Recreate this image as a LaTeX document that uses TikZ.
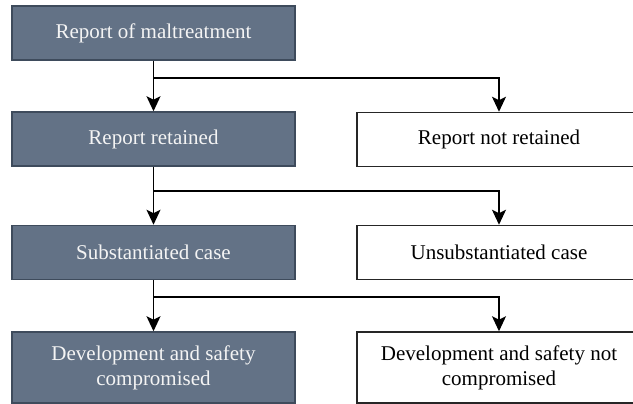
\documentclass[tikz,border=0pt]{standalone}
\usepackage{fontspec}
\setmainfont{Liberation Serif}
\usetikzlibrary{arrows.meta}
\definecolor{boxfill}{HTML}{637286}
\definecolor{boxline}{HTML}{3E4B5C}
\definecolor{boxtext}{HTML}{F4F4F4}
\tikzset{
  base/.style={rectangle, inner sep=0pt, align=center, line width=1.5pt,
    font=\fontsize{21}{25}\selectfont},
  darkbox/.style={base, fill=boxfill, draw=boxline, text=boxtext,
    minimum width=283pt, minimum height=54pt},
  lightbox/.style={base, fill=white, draw=black!85, text=black,
    minimum width=284pt, minimum height=54pt},
  conn/.style={line width=1.5pt, draw=black},
  arr/.style={conn, -{Stealth[length=15pt, width=14pt, inset=3.5pt]}}
}
\begin{document}
\begin{tikzpicture}[x=1pt, y=-1pt]
\useasboundingbox (0,0) rectangle (633,404);
\clip (0,0) rectangle (633,404);
\fill[white] (0,0) rectangle (633,404);

\node[darkbox] (a) at (153.5,33) {Report of maltreatment};
\node[darkbox] (b) at (153.5,139) {Report retained};
\node[lightbox] (c) at (499,139.5) {Report not retained};
\node[darkbox] (d) at (153.5,252.5) {Substantiated case};
\node[lightbox] (e) at (499,252.5) {Unsubstantiated case};
\node[darkbox, minimum height=71pt] (f) at (153.5,367.5) {Development and safety\\compromised};
\node[lightbox, minimum height=71pt] (g) at (499,367.5) {Development and safety not\\compromised};

\coordinate (j1) at (a.south |- 0,78);
\coordinate (j2) at (b.south |- 0,191);
\coordinate (j3) at (d.south |- 0,297);

\draw[arr] (a.south) -- (b.north);
\draw[arr] (j1) -| (c.north);
\draw[arr] (b.south) -- (d.north);
\draw[arr] (j2) -| (e.north);
\draw[arr] (d.south) -- (f.north);
\draw[arr] (j3) -| (g.north);
\end{tikzpicture}
\end{document}
